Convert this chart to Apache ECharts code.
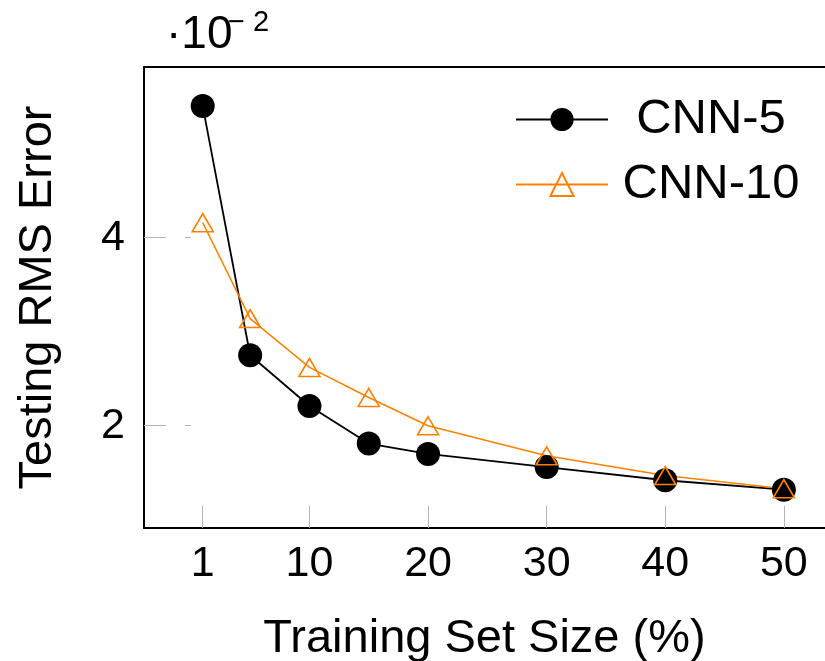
<!DOCTYPE html>
<html>
<head>
<meta charset="utf-8">
<script src="https://cdn.jsdelivr.net/npm/echarts@6/dist/echarts.min.js"></script>
<style>html,body{margin:0;padding:0;background:#fff}#c{width:825px;height:661px}</style>
</head>
<body>
<div id="c"></div>
<script>
const trainSize = [1, 5, 10, 15, 20, 30, 40, 50];
const cnn5 = [5.40, 2.75, 2.21, 1.81, 1.70, 1.56, 1.42, 1.32];
const cnn10 = [4.16, 3.14, 2.62, 2.30, 2.00, 1.68, 1.47, 1.33];
const xTicks = [1, 10, 20, 30, 40, 50];
const yTicks = [2, 4];
const seriesNames = ['CNN-5', 'CNN-10'];

const FONT = 'Liberation Sans, Arial, sans-serif';
const chart = echarts.init(document.getElementById('c'), null, {renderer: 'canvas'});
const pairs = a => trainSize.map((x, i) => [x, a[i]]);
const tickStyle = {color: '#b4b4b4', width: 1};

chart.setOption({
  animation: false,
  backgroundColor: '#fff',
  textStyle: {fontFamily: FONT},
  graphic: [
    {type: 'text', left: 166, top: 12, style: {text: '·10', font: '46px ' + FONT, fill: '#000'}},
    {type: 'text', left: 228, top: 8, style: {text: '− 2', font: '29px ' + FONT, fill: '#000'}}
  ],
  grid: {left: 144, top: 67, right: 0, bottom: 133, show: false, containLabel: false, outerBoundsMode: 'none'},
  legend: {
    orient: 'vertical', left: 515, top: 95, padding: 0, itemGap: 16,
    itemWidth: 92, itemHeight: 29,
    data: seriesNames,
    formatter: n => '{n|' + n + '}',
    textStyle: {fontFamily: FONT, rich: {n: {fontSize: 49, width: 196, align: 'center', lineHeight: 50, color: '#000', fontFamily: FONT}}}
  },
  xAxis: [{
    type: 'value', min: -3.95, max: 53.47, position: 'bottom',
    axisLine: {show: true, onZero: false, lineStyle: {color: '#000', width: 2}},
    splitLine: {show: false},
    axisTick: {show: true, inside: true, length: 22, lineStyle: tickStyle, customValues: xTicks},
    axisLabel: {fontSize: 43, color: '#000', margin: 15, fontFamily: FONT, customValues: xTicks},
    name: 'Training Set Size (%)', nameLocation: 'middle', nameGap: 88,
    nameTextStyle: {fontSize: 47, color: '#000', fontFamily: FONT}
  }, {
    type: 'value', min: -3.95, max: 53.47, position: 'top',
    axisLine: {show: true, onZero: false, lineStyle: {color: '#000', width: 2}},
    splitLine: {show: false}, axisTick: {show: false}, axisLabel: {show: false}
  }],
  yAxis: [{
    type: 'value', min: 0.912, max: 5.816, position: 'left',
    axisLine: {show: true, onZero: false, lineStyle: {color: '#000', width: 2}},
    splitLine: {show: false},
    axisTick: {show: true, inside: true, length: 22, lineStyle: tickStyle, customValues: yTicks},
    axisLabel: {fontSize: 43, color: '#000', margin: 19, fontFamily: FONT, customValues: yTicks},
    name: 'Testing RMS Error', nameLocation: 'middle', nameGap: 82,
    nameTextStyle: {fontSize: 47, color: '#000', fontFamily: FONT}
  }, {
    type: 'value', min: 0.912, max: 5.816, position: 'right',
    axisLine: {show: false},
    splitLine: {show: false},
    axisTick: {show: true, inside: true, length: 6, lineStyle: tickStyle, customValues: yTicks},
    axisLabel: {show: false}
  }],
  series: [{
    name: seriesNames[0], type: 'line', data: pairs(cnn5),
    symbol: 'circle', symbolSize: 24,
    itemStyle: {color: '#000'},
    lineStyle: {color: '#000', width: 1.8}
  }, {
    name: seriesNames[1], type: 'line', data: pairs(cnn10),
    symbol: 'triangle', symbolSize: [21, 18],
    itemStyle: {color: 'rgba(0,0,0,0)', borderColor: '#FF8000', borderWidth: 1.6},
    lineStyle: {color: '#FF8000', width: 1.5}
  }]
});
</script>
</body>
</html>
